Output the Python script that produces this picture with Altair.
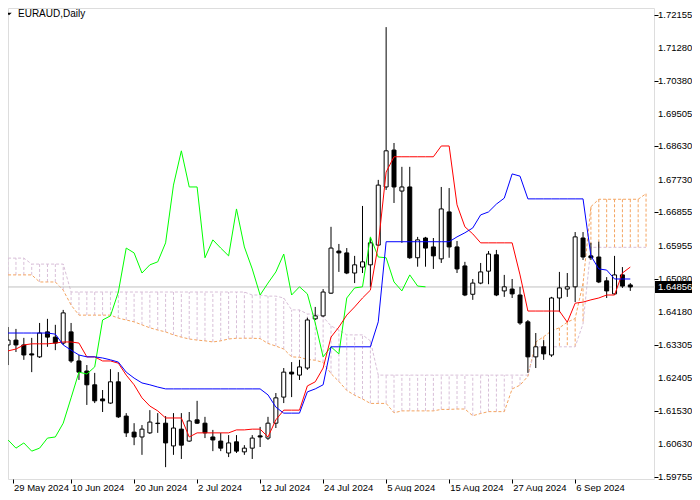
import altair as alt
import pandas as pd

# ---- data (EURAUD daily, bar index 0 = 29 May 2024) ----
opens = [1.6330, 1.6343, 1.6330, 1.6306, 1.6298, 1.6365, 1.6351, 1.6335, 1.6365, 1.6287,
         1.6260, 1.6223, 1.6185, 1.6174, 1.6231, 1.6139, 1.6096, 1.6083, 1.6094, 1.6120,
         1.6120, 1.6059, 1.6104, 1.6072, 1.6129, 1.6120, 1.6083, 1.6072, 1.6040, 1.6070,
         1.6043, 1.6053, 1.6086, 1.6080, 1.6120, 1.6190, 1.6257, 1.6249, 1.6268, 1.6400,
         1.6408, 1.6469, 1.6582, 1.6577, 1.6523, 1.6539, 1.6545, 1.6598, 1.6754, 1.6853,
         1.6743, 1.6754, 1.6564, 1.6617, 1.6593, 1.6561, 1.6687, 1.6593, 1.6542, 1.6466,
         1.6496, 1.6528, 1.6572, 1.6475, 1.6480, 1.6464, 1.6392, 1.6298, 1.6325, 1.6303,
         1.6456, 1.6480, 1.6486, 1.6617, 1.6569, 1.6566, 1.6502, 1.6467, 1.6518, 1.6491]
highs = [1.6378, 1.6373, 1.6349, 1.6349, 1.6389, 1.6400, 1.6384, 1.6424, 1.6389, 1.6303,
         1.6276, 1.6255, 1.6209, 1.6265, 1.6257, 1.6147, 1.6120, 1.6115, 1.6155, 1.6147,
         1.6139, 1.6147, 1.6147, 1.6150, 1.6180, 1.6137, 1.6102, 1.6094, 1.6088, 1.6088,
         1.6061, 1.6088, 1.6110, 1.6137, 1.6201, 1.6268, 1.6284, 1.6290, 1.6403, 1.6432,
         1.6480, 1.6647, 1.6601, 1.6590, 1.6569, 1.6703, 1.6617, 1.6773, 1.7183, 1.6872,
         1.6808, 1.6808, 1.6620, 1.6620, 1.6617, 1.6754, 1.6751, 1.6609, 1.6553, 1.6507,
         1.6550, 1.6582, 1.6585, 1.6518, 1.6507, 1.6486, 1.6397, 1.6362, 1.6343, 1.6459,
         1.6526, 1.6523, 1.6633, 1.6633, 1.6604, 1.6607, 1.6512, 1.6569, 1.6539, 1.6496]
lows = [1.6276, 1.6311, 1.6290, 1.6257, 1.6295, 1.6325, 1.6316, 1.6330, 1.6282, 1.6236,
        1.6169, 1.6174, 1.6150, 1.6172, 1.6134, 1.6083, 1.6061, 1.6035, 1.6091, 1.6094,
        1.6002, 1.6035, 1.6024, 1.6070, 1.6118, 1.6080, 1.6045, 1.6045, 1.6029, 1.6040,
        1.6035, 1.6024, 1.6056, 1.6075, 1.6107, 1.6174, 1.6190, 1.6236, 1.6263, 1.6397,
        1.6405, 1.6467, 1.6526, 1.6520, 1.6496, 1.6523, 1.6486, 1.6596, 1.6746, 1.6711,
        1.6604, 1.6561, 1.6540, 1.6540, 1.6534, 1.6550, 1.6564, 1.6523, 1.6461, 1.6451,
        1.6493, 1.6493, 1.6461, 1.6459, 1.6456, 1.6384, 1.6255, 1.6268, 1.6290, 1.6298,
        1.6418, 1.6459, 1.6445, 1.6558, 1.6558, 1.6496, 1.6456, 1.6464, 1.6483, 1.6475]
closes = [1.6343, 1.6330, 1.6303, 1.6303, 1.6362, 1.6351, 1.6335, 1.6416, 1.6287, 1.6257,
          1.6223, 1.6180, 1.6180, 1.6231, 1.6137, 1.6094, 1.6083, 1.6104, 1.6123, 1.6119,
          1.6067, 1.6107, 1.6061, 1.6126, 1.6120, 1.6094, 1.6075, 1.6053, 1.6067, 1.6045,
          1.6053, 1.6080, 1.6083, 1.6120, 1.6188, 1.6257, 1.6252, 1.6271, 1.6397, 1.6408,
          1.6472, 1.6590, 1.6577, 1.6523, 1.6545, 1.6553, 1.6604, 1.6759, 1.6851, 1.6754,
          1.6754, 1.6564, 1.6612, 1.6590, 1.6569, 1.6695, 1.6593, 1.6534, 1.6464, 1.6496,
          1.6526, 1.6574, 1.6464, 1.6486, 1.6467, 1.6389, 1.6298, 1.6325, 1.6306, 1.6456,
          1.6483, 1.6486, 1.6620, 1.6566, 1.6564, 1.6499, 1.6475, 1.6518, 1.6488, 1.64856]

# Ichimoku lines (red Tenkan, blue Kijun, green Chikou)
tenkan = [1.6314, 1.6319, 1.6330, 1.6333, 1.6333, 1.6333, 1.6335, 1.6338, 1.6338, 1.6335,
          1.6298, 1.6298, 1.6287, 1.6287, 1.6281, 1.6249, 1.6223, 1.6188, 1.6166, 1.6153,
          1.6134, 1.6134, 1.6134, 1.6083, 1.6094, 1.6094, 1.6094, 1.6094, 1.6094, 1.6102,
          1.6102, 1.6104, 1.6104, 1.6083, 1.6129, 1.6155, 1.6155, 1.6155, 1.6220, 1.6231,
          1.6268, 1.6351, 1.6378, 1.6410, 1.6432, 1.6456, 1.6477, 1.6598, 1.6794, 1.6835,
          1.6835, 1.6835, 1.6835, 1.6835, 1.6835, 1.6864, 1.6864, 1.6706, 1.6647, 1.6628,
          1.6604, 1.6604, 1.6604, 1.6604, 1.6604, 1.6518, 1.6421, 1.6421, 1.6421, 1.6421,
          1.6421, 1.6391, 1.6442, 1.6445, 1.6451, 1.6456, 1.6464, 1.6464, 1.6523, 1.6539]
kijun = [1.6362, 1.6362, 1.6362, 1.6362, 1.6362, 1.6362, 1.6359, 1.6330, 1.6316, 1.6303,
         1.6298, 1.6298, 1.6295, 1.6290, 1.6284, 1.6257, 1.6241, 1.6228, 1.6223, 1.6217,
         1.6212, 1.6212, 1.6212, 1.6212, 1.6212, 1.6212, 1.6212, 1.6212, 1.6212, 1.6212,
         1.6212, 1.6212, 1.6212, 1.6196, 1.6163, 1.6147, 1.6147, 1.6147, 1.6204, 1.6212,
         1.6223, 1.6325, 1.6325, 1.6325, 1.6325, 1.6325, 1.6325, 1.6392, 1.6607, 1.6607,
         1.6607, 1.6607, 1.6607, 1.6607, 1.6607, 1.6607, 1.6607, 1.6620, 1.6631, 1.6644,
         1.6679, 1.6687, 1.6708, 1.6724, 1.6789, 1.6783, 1.6722, 1.6722, 1.6722, 1.6722,
         1.6722, 1.6722, 1.6722, 1.6722, 1.6569, 1.6534, 1.6531, 1.6507, 1.6507, 1.6507]
chikou = [1.6075, 1.6053, 1.6067, 1.6045, 1.6053, 1.6080, 1.6083, 1.6120, 1.6188, 1.6257,
          1.6252, 1.6271, 1.6397, 1.6408, 1.6472, 1.6590, 1.6577, 1.6523, 1.6545, 1.6553,
          1.6604, 1.6759, 1.6851, 1.6754, 1.6754, 1.6564, 1.6612, 1.6590, 1.6569, 1.6695,
          1.6593, 1.6534, 1.6464, 1.6496, 1.6526, 1.6574, 1.6464, 1.6486, 1.6467, 1.6389,
          1.6298, 1.6325, 1.6306, 1.6456, 1.6483, 1.6486, 1.6620, 1.6566, 1.6564, 1.6499,
          1.6475, 1.6518, 1.6488, 1.6486]
# cloud edges (Senkou span A sandy brown, span B thistle), bar 0..81
span_a = [1.6518, 1.6518, 1.6518, 1.6518, 1.6499, 1.6499, 1.6499, 1.6477, 1.6437, 1.6410,
          1.6410, 1.6410, 1.6410, 1.6410, 1.6402, 1.6397, 1.6392, 1.6384, 1.6376, 1.6370,
          1.6365, 1.6357, 1.6351, 1.6346, 1.6343, 1.6341, 1.6338, 1.6341, 1.6346, 1.6348,
          1.6348, 1.6348, 1.6347, 1.6334, 1.6327, 1.6319, 1.6298, 1.6297, 1.6291, 1.6289,
          1.6283, 1.6253, 1.6232, 1.6208, 1.6195, 1.6185, 1.6173, 1.6173, 1.6173, 1.6148,
          1.6153, 1.6153, 1.6153, 1.6153, 1.6153, 1.6157, 1.6157, 1.6158, 1.6158, 1.6140,
          1.6146, 1.6151, 1.6151, 1.6151, 1.6212, 1.6222, 1.6246, 1.6338, 1.6352, 1.6368,
          1.6376, 1.6391, 1.6401, 1.6495, 1.6701, 1.6721, 1.6721, 1.6721, 1.6721, 1.6721,
          1.6721, 1.6736]
span_b = [1.6563, 1.6563, 1.6563, 1.6547, 1.6547, 1.6547, 1.6547, 1.6547, 1.6472, 1.6472,
          1.6472, 1.6472, 1.6472, 1.6472, 1.6472, 1.6472, 1.6472, 1.6472, 1.6472, 1.6472,
          1.6472, 1.6472, 1.6472, 1.6472, 1.6472, 1.6472, 1.6472, 1.6472, 1.6472, 1.6472,
          1.6472, 1.6464, 1.6464, 1.6461, 1.6461, 1.6456, 1.6424, 1.6424, 1.6413, 1.6413,
          1.6405, 1.6381, 1.6370, 1.6357, 1.6357, 1.6357, 1.6341, 1.6249, 1.6249, 1.6249,
          1.6249, 1.6249, 1.6249, 1.6249, 1.6249, 1.6249, 1.6249, 1.6249, 1.6249, 1.6249,
          1.6249, 1.6249, 1.6249, 1.6249, 1.6249, 1.6249, 1.6249, 1.6325, 1.6325, 1.6325,
          1.6325, 1.6325, 1.6325, 1.6387, 1.6592, 1.6592, 1.6592, 1.6592, 1.6592, 1.6592,
          1.6592, 1.6592]

x_tick_bars = [0.625, 8, 16, 24, 32, 40, 48, 56, 64, 72]
x_tick_labels = ["29 May 2024", "10 Jun 2024", "20 Jun 2024", "2 Jul 2024", "12 Jul 2024",
                 "24 Jul 2024", "5 Aug 2024", "15 Aug 2024", "27 Aug 2024", "6 Sep 2024"]
y_ticks = [1.72155, 1.71280, 1.70380, 1.69505, 1.68630, 1.67730, 1.66855, 1.65955,
           1.65080, 1.64180, 1.63305, 1.62405, 1.61530, 1.60630, 1.59755]
last_price = 1.64856
title_text = "EURAUD,Daily"

# ---- tables ----
candles = pd.DataFrame({"i": range(len(opens)), "open": opens, "high": highs,
                        "low": lows, "close": closes})
candles["dir"] = ["bull" if c >= o else "bear" for o, c in zip(opens, closes)]
lines_df = pd.DataFrame({"i": range(len(tenkan)), "tenkan": tenkan, "kijun": kijun})
chikou_df = pd.DataFrame({"i": range(len(chikou)), "chikou": chikou})
cloud = pd.DataFrame({"i": range(len(span_a)), "a": span_a, "b": span_b})
cloud["dir"] = ["up" if a >= b else "down" for a, b in zip(span_a, span_b)]
ylab = pd.DataFrame({"p": y_ticks, "t": [f"{v:.5f}" for v in y_ticks]})
xlab = pd.DataFrame({"i": x_tick_bars, "t": x_tick_labels})

W, H = 646, 471
FONT = "Liberation Sans"
xs = alt.Scale(domain=[0.625, 81.375], nice=False, zero=False)
ys = alt.Scale(domain=[1.59702, 1.72343], nice=False, zero=False)

x_axis = alt.Axis(values=x_tick_bars, labels=False, title=None, grid=False,
                  domain=False, tickColor="black", tickSize=4)
y_axis = alt.Axis(values=y_ticks, labels=False, orient="right", title=None, grid=False,
                  domain=False, tickColor="black", tickSize=4)

X = lambda f: alt.X(f, scale=xs)
Y = lambda f: alt.Y(f, scale=ys)

SANDY = "#F4A460"
THISTLE = "#D8BFD8"

base_cloud = alt.Chart(cloud)
hatch = base_cloud.mark_rule(strokeWidth=1, strokeDash=[3, 2]).encode(
    x=alt.X("i:Q", scale=xs, axis=x_axis),
    y=alt.Y("a:Q", scale=ys, axis=y_axis),
    y2="b:Q",
    color=alt.Color("dir:N", scale=alt.Scale(domain=["up", "down"], range=[SANDY, THISTLE]), legend=None),
)
line_a = base_cloud.mark_line(color=SANDY, strokeWidth=1, strokeDash=[3, 2]).encode(
    x=X("i:Q"), y=Y("a:Q"))
line_b = base_cloud.mark_line(color=THISTLE, strokeWidth=1, strokeDash=[3, 2]).encode(
    x=X("i:Q"), y=Y("b:Q"))

price_line = alt.Chart(pd.DataFrame({"p": [last_price]})).mark_rule(
    color="#C0C0C0", strokeWidth=1).encode(y=Y("p:Q"))

cbase = alt.Chart(candles)
wicks = cbase.mark_rule(color="black", strokeWidth=1).encode(
    x=X("i:Q"), y=Y("low:Q"), y2="high:Q")
bodies = cbase.mark_bar(size=4, stroke="black", strokeWidth=1).encode(
    x=X("i:Q"), y=Y("open:Q"), y2="close:Q",
    fill=alt.Fill("dir:N", scale=alt.Scale(domain=["bull", "bear"], range=["white", "black"]), legend=None),
)

chikou_line = alt.Chart(chikou_df).mark_line(color="#00FF00", strokeWidth=1).encode(
    x=X("i:Q"), y=Y("chikou:Q"))
tenkan_line = alt.Chart(lines_df).mark_line(color="#FF0000", strokeWidth=1).encode(
    x=X("i:Q"), y=Y("tenkan:Q"))
kijun_line = alt.Chart(lines_df).mark_line(color="#0000FF", strokeWidth=1).encode(
    x=X("i:Q"), y=Y("kijun:Q"))

# right-hand price labels and bottom date labels
y_labels = alt.Chart(ylab).mark_text(align="left", baseline="middle", font=FONT,
                                     fontSize=9.5, color="black").encode(
    y=Y("p:Q"), x=alt.value(W + 4), text="t:N")
x_labels = alt.Chart(xlab).mark_text(align="left", baseline="top", font=FONT,
                                     fontSize=9.5, color="black", dx=1).encode(
    x=X("i:Q"), y=alt.value(H + 4), text="t:N")

lp = pd.DataFrame({"p": [last_price], "t": [f"{last_price:.5f}"]})
price_box = alt.Chart(lp).mark_rule(color="black", strokeWidth=12).encode(
    y=Y("p:Q"), x=alt.value(W + 1), x2=alt.value(W + 40))
price_text = alt.Chart(lp).mark_text(color="white", align="left", baseline="middle",
                                     font=FONT, fontSize=9.5).encode(
    y=Y("p:Q"), x=alt.value(W + 4), text="t:N")

tdf = pd.DataFrame({"t": [title_text]})
title_mark = alt.Chart(tdf).mark_text(align="left", baseline="middle", font=FONT,
                                      fontSize=10, color="black").encode(
    x=alt.value(10), y=alt.value(6), text="t:N")
tri = alt.Chart(tdf).mark_point(shape="M-1,-0.5L1,-0.5L0,0.5Z", filled=True, color="black",
                                size=30, opacity=1).encode(x=alt.value(1), y=alt.value(6))

chart = alt.layer(
    hatch, line_a, line_b, price_line, wicks, bodies,
    chikou_line, tenkan_line, kijun_line, y_labels, x_labels, price_box, price_text,
    title_mark, tri
).properties(
    width=W, height=H,
    autosize=alt.AutoSizeParams(type="none"),
    padding={"left": 0, "top": 0, "right": 38, "bottom": 13},
).configure_view(stroke="black", strokeWidth=1).configure(background="white")

chart.save("out.html", embed_options={"renderer": "svg", "actions": False})
